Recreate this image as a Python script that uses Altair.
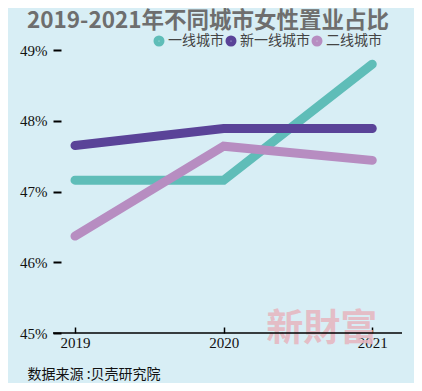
import altair as alt
import pandas as pd

years = [2019, 2020, 2021]
series = ["一线城市", "新一线城市", "二线城市"]
tier1 = [47.16, 47.16, 48.8]
newtier1 = [47.65, 47.89, 47.89]
tier2 = [46.37, 47.64, 47.44]
colors = ["#5fbdb8", "#5a4398", "#b78dc1"]
y_ticks = [45, 46, 47, 48, 49]

rows = []
for name, vals in zip(series, [tier1, newtier1, tier2]):
    for yr, v in zip(years, vals):
        rows.append({"year": yr, "city": name, "share": v, "order": series.index(name)})
df = pd.DataFrame(rows)

xdom = [2018.852, 2021.2]
ydom = [45, 49]

xscale = alt.Scale(domain=xdom, nice=False, zero=False)
yscale = alt.Scale(domain=ydom, nice=False, zero=False)

watermark = alt.Chart(pd.DataFrame({"x": [2020.66], "y": [45.04], "t": ["新財富"]})).mark_text(
    font="Noto Sans CJK TC", fontSize=37, fontWeight="bold", color="#e6b8c2", opacity=0.9,
    align="center", baseline="middle"
).encode(
    x=alt.X("x:Q", scale=xscale),
    y=alt.Y("y:Q", scale=yscale),
    text="t:N",
)

baseline = alt.Chart(pd.DataFrame({"x": [xdom[0]], "x2": [xdom[1]], "y": [45]})).mark_rule(
    color="black", strokeWidth=1.3
).encode(
    x=alt.X("x:Q", scale=xscale),
    x2="x2:Q",
    y=alt.Y("y:Q", scale=yscale),
)

lines = alt.Chart(df).mark_line(strokeWidth=9, strokeCap="round", strokeJoin="miter").encode(
    x=alt.X("year:Q", scale=xscale,
            axis=alt.Axis(values=years, format="d", offset=-6, tickSize=6, domain=False,
                          grid=False, labelPadding=2, title="数据来源 :贝壳研究院",
                          titleX=-26, titleY=51, titleAlign="left", titleAnchor="start",
                          titleBaseline="alphabetic", titleFont="Noto Sans CJK SC",
                          titleFontSize=14, titleFontWeight="normal", titleColor="#111")),
    y=alt.Y("share:Q", scale=yscale,
            axis=alt.Axis(values=y_ticks, labelExpr="datum.value + '%'", offset=-8, tickSize=8,
                          tickWidth=2, domain=False, grid=False, labelPadding=6, title=None)),
    color=alt.Color("city:N", sort=series, scale=alt.Scale(domain=series, range=colors),
                    legend=alt.Legend(orient="none", legendX=99, legendY=-16, direction="horizontal",
                                      title=None, symbolType="circle", symbolSize=36,
                                      symbolStrokeWidth=5, labelFont="Noto Sans CJK SC",
                                      labelFontSize=14, labelColor="#444", columnPadding=-9,
                                      labelOffset=2)),
    order="order:Q",
    detail="city:N",
)

chart = alt.layer(watermark, baseline, lines).properties(
    width=349, height=283,
    background="#d8eef5",
    autosize=alt.AutoSizeParams(type="none"),
    padding={"left": 45, "top": 42, "right": 12, "bottom": 50},
    title=alt.TitleParams("2019-2021年不同城市女性置业占比", anchor="start", frame="group",
                          dx=-26, offset=2, font="Noto Sans CJK SC", fontSize=22.5,
                          fontWeight="bold", color="#6e6e6e"),
).configure_view(stroke=None).configure_axis(
    labelFont="Liberation Sans Narrow", labelFontSize=15, labelColor="#111",
    tickColor="black", tickWidth=1.5
)

chart.save("out.html", embed_options={"renderer": "svg", "actions": False})
